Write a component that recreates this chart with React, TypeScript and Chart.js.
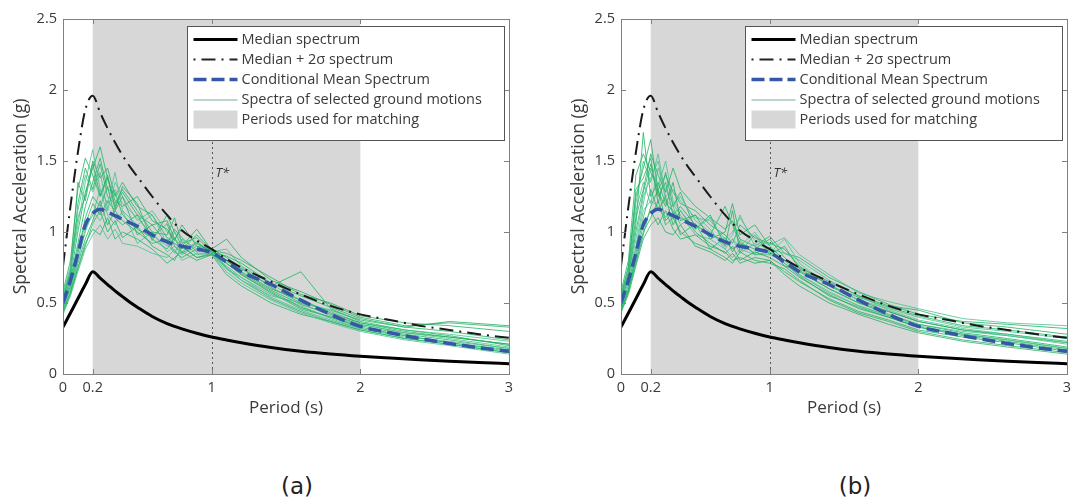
import { useEffect, useRef } from "react";
import { Chart, registerables } from "chart.js";
Chart.register(...registerables);

// ---- axis ranges & ticks ----
const xTickValues = [0, 0.2, 1, 2, 3];
const yTickValues = [0, 0.5, 1, 1.5, 2, 2.5];
const matchStart = 0.2;
const matchEnd = 2;
const tStar = 1;
const tStarLabelY = 1.41;

// ---- smooth spectra (shared by both panels) ----
const periods = [0, 0.05, 0.1, 0.15, 0.2, 0.25, 0.3, 0.35, 0.4, 0.45, 0.5, 0.6, 0.7, 0.8, 0.9, 1.0, 1.1, 1.2, 1.4, 1.6, 1.8, 2.0, 2.2, 2.4, 2.6, 2.8, 3.0];
const medianSa = [0.33, 0.43, 0.53, 0.63, 0.72, 0.675, 0.63, 0.585, 0.545, 0.505, 0.47, 0.405, 0.355, 0.318, 0.287, 0.26, 0.239, 0.22, 0.187, 0.161, 0.141, 0.125, 0.112, 0.1, 0.09, 0.081, 0.073];
const plus2SigmaSa = [0.76, 1.18, 1.56, 1.86, 1.96, 1.84, 1.73, 1.63, 1.54, 1.46, 1.39, 1.25, 1.12, 1.01, 0.94, 0.88, 0.81, 0.75, 0.65, 0.56, 0.48, 0.42, 0.38, 0.34, 0.31, 0.28, 0.255];
const cmsSa = [0.5, 0.66, 0.85, 1.05, 1.13, 1.16, 1.14, 1.115, 1.09, 1.065, 1.04, 0.98, 0.93, 0.9, 0.88, 0.855, 0.79, 0.72, 0.63, 0.52, 0.42, 0.335, 0.29, 0.25, 0.215, 0.185, 0.16];

// ---- selected ground motions ----
const gmPeriods = [0, 0.05, 0.1, 0.15, 0.2, 0.25, 0.3, 0.35, 0.4, 0.5, 0.6, 0.7, 0.75, 0.8, 0.9, 1.0, 1.1, 1.2, 1.4, 1.6, 1.8, 2.0, 2.3, 2.6, 3.0];

const gmA1 = [0.48, 0.62, 0.85, 1.10, 1.25, 1.18, 1.32, 1.10, 1.05, 1.12, 0.95, 0.88, 0.96, 0.85, 0.92, 0.86, 0.78, 0.70, 0.58, 0.47, 0.40, 0.33, 0.27, 0.22, 0.17];
const gmA2 = [0.55, 0.74, 1.05, 1.35, 1.58, 1.30, 1.20, 1.42, 1.15, 1.05, 1.12, 0.92, 0.85, 0.95, 0.88, 0.87, 0.74, 0.66, 0.55, 0.50, 0.41, 0.35, 0.29, 0.25, 0.19];
const gmA3 = [0.45, 0.58, 0.78, 0.95, 1.08, 1.22, 1.05, 1.15, 1.25, 0.98, 1.05, 1.08, 0.95, 0.90, 0.82, 0.84, 0.80, 0.72, 0.60, 0.52, 0.43, 0.36, 0.30, 0.26, 0.21];
const gmA4 = [0.52, 0.70, 1.20, 1.45, 1.30, 1.48, 1.25, 1.20, 1.30, 1.15, 1.00, 0.98, 1.10, 0.92, 0.96, 0.86, 0.83, 0.78, 0.64, 0.55, 0.47, 0.39, 0.33, 0.30, 0.24];
const gmA5 = [0.42, 0.55, 0.72, 0.88, 0.98, 1.05, 0.95, 1.02, 0.92, 0.90, 0.85, 0.82, 0.88, 0.80, 0.85, 0.85, 0.72, 0.64, 0.52, 0.43, 0.36, 0.30, 0.24, 0.20, 0.14];
const gmA6 = [0.58, 0.80, 1.30, 1.52, 1.40, 1.25, 1.38, 1.22, 1.18, 1.25, 1.08, 1.02, 0.94, 1.05, 0.90, 0.88, 0.95, 0.82, 0.66, 0.58, 0.49, 0.40, 0.34, 0.36, 0.33];
const gmA7 = [0.50, 0.66, 0.92, 1.18, 1.35, 1.52, 1.30, 1.28, 1.12, 1.02, 0.96, 1.06, 0.90, 0.86, 0.93, 0.86, 0.80, 0.74, 0.62, 0.72, 0.46, 0.37, 0.31, 0.27, 0.20];
const gmA8 = [0.47, 0.60, 0.80, 1.00, 1.15, 1.08, 1.18, 1.30, 1.20, 1.10, 0.98, 0.90, 1.00, 0.94, 0.84, 0.85, 0.76, 0.68, 0.56, 0.48, 0.39, 0.32, 0.26, 0.23, 0.18];
const gmA9 = [0.53, 0.72, 1.10, 1.25, 1.50, 1.38, 1.45, 1.25, 1.35, 1.18, 1.12, 0.96, 0.92, 0.88, 0.98, 0.87, 0.85, 0.80, 0.68, 0.56, 0.50, 0.41, 0.36, 0.34, 0.30];
const gmA10 = [0.44, 0.57, 0.75, 0.92, 1.02, 0.98, 1.10, 0.95, 1.00, 0.95, 0.88, 0.78, 0.82, 0.86, 0.80, 0.84, 0.70, 0.62, 0.50, 0.42, 0.37, 0.31, 0.25, 0.21, 0.15];
const gmA11 = [0.56, 0.76, 1.15, 1.40, 1.28, 1.42, 1.15, 1.35, 1.25, 1.08, 1.15, 1.00, 0.95, 1.02, 0.92, 0.86, 0.88, 0.76, 0.63, 0.52, 0.44, 0.36, 0.31, 0.28, 0.23];
const gmA12 = [0.49, 0.64, 0.88, 1.05, 1.20, 1.12, 1.22, 1.15, 1.08, 1.00, 0.92, 0.95, 0.86, 0.82, 0.88, 0.84, 0.78, 0.70, 0.57, 0.46, 0.40, 0.34, 0.28, 0.24, 0.18];
const gmA13 = [0.51, 0.68, 1.00, 1.28, 1.45, 1.60, 1.38, 1.18, 1.28, 1.12, 1.05, 0.92, 1.02, 0.96, 0.86, 0.88, 0.82, 0.75, 0.61, 0.50, 0.45, 0.38, 0.33, 0.37, 0.34];
const gmA14 = [0.46, 0.61, 0.82, 1.02, 1.12, 1.30, 1.12, 1.05, 1.15, 0.92, 1.00, 0.86, 0.90, 0.84, 0.90, 0.85, 0.74, 0.68, 0.54, 0.45, 0.38, 0.32, 0.27, 0.22, 0.16];
const gmA15 = [0.54, 0.73, 1.35, 1.22, 1.48, 1.26, 1.40, 1.16, 1.32, 1.20, 0.94, 1.12, 1.00, 0.90, 1.02, 0.87, 0.80, 0.71, 0.59, 0.49, 0.42, 0.35, 0.29, 0.26, 0.21];
const gmA16 = [0.43, 0.56, 0.74, 0.90, 1.06, 1.15, 1.00, 1.08, 0.96, 1.04, 0.90, 0.84, 0.80, 0.90, 0.82, 0.85, 0.75, 0.66, 0.53, 0.44, 0.37, 0.31, 0.25, 0.21, 0.15];

const gmB1 = [0.50, 0.68, 1.05, 1.70, 1.25, 1.35, 1.20, 1.15, 1.10, 1.05, 0.98, 1.18, 1.05, 0.92, 0.88, 0.95, 0.82, 0.72, 0.60, 0.50, 0.42, 0.35, 0.29, 0.25, 0.19];
const gmB2 = [0.47, 0.62, 0.90, 1.20, 1.45, 1.32, 1.50, 1.22, 1.15, 1.02, 1.10, 0.92, 0.98, 1.12, 0.90, 0.85, 0.95, 0.78, 0.62, 0.52, 0.46, 0.40, 0.33, 0.30, 0.25];
const gmB3 = [0.55, 0.75, 1.25, 1.45, 1.65, 1.28, 1.18, 1.35, 1.08, 1.12, 0.95, 1.00, 1.20, 0.98, 1.05, 0.90, 0.80, 0.75, 0.65, 0.55, 0.48, 0.45, 0.36, 0.33, 0.28];
const gmB4 = [0.44, 0.58, 0.80, 1.00, 1.10, 1.22, 1.05, 1.10, 1.00, 0.92, 0.88, 0.82, 0.78, 0.86, 0.80, 0.78, 0.74, 0.66, 0.52, 0.43, 0.37, 0.30, 0.24, 0.20, 0.15];
const gmB5 = [0.52, 0.70, 1.15, 1.35, 1.20, 1.45, 1.30, 1.20, 1.25, 1.08, 1.00, 0.90, 0.95, 0.85, 0.92, 0.88, 0.85, 0.80, 0.66, 0.55, 0.45, 0.38, 0.32, 0.28, 0.22];
const gmB6 = [0.46, 0.60, 0.85, 1.10, 1.30, 1.15, 1.25, 1.05, 1.15, 1.00, 0.92, 0.85, 0.90, 0.80, 0.86, 0.82, 0.76, 0.68, 0.56, 0.46, 0.40, 0.33, 0.27, 0.23, 0.17];
const gmB7 = [0.58, 0.80, 1.40, 1.55, 1.42, 1.30, 1.40, 1.28, 1.20, 1.15, 1.05, 0.98, 0.92, 1.05, 0.96, 0.92, 0.88, 0.76, 0.62, 0.54, 0.47, 0.41, 0.34, 0.31, 0.26];
const gmB8 = [0.49, 0.65, 0.95, 1.25, 1.38, 1.50, 1.22, 1.18, 1.05, 1.12, 1.02, 0.88, 0.95, 0.90, 1.00, 0.86, 0.78, 0.70, 0.58, 0.48, 0.41, 0.35, 0.30, 0.27, 0.21];
const gmB9 = [0.43, 0.56, 0.76, 0.95, 1.05, 1.10, 1.00, 0.98, 1.05, 0.90, 0.86, 0.80, 0.85, 0.78, 0.82, 0.80, 0.70, 0.62, 0.50, 0.42, 0.35, 0.29, 0.23, 0.19, 0.14];
const gmB10 = [0.54, 0.72, 1.10, 1.30, 1.55, 1.40, 1.28, 1.45, 1.30, 1.18, 1.10, 1.02, 1.08, 0.95, 0.90, 0.97, 0.85, 0.82, 0.68, 0.58, 0.49, 0.42, 0.37, 0.35, 0.32];
const gmB11 = [0.48, 0.63, 0.88, 1.15, 1.22, 1.18, 1.10, 1.20, 1.12, 0.98, 0.95, 0.88, 0.82, 0.88, 0.84, 0.84, 0.80, 0.70, 0.57, 0.48, 0.41, 0.34, 0.28, 0.24, 0.18];
const gmB12 = [0.51, 0.67, 1.00, 1.28, 1.48, 1.25, 1.35, 1.12, 1.18, 1.05, 0.98, 0.94, 0.88, 0.92, 0.85, 0.89, 0.76, 0.73, 0.60, 0.50, 0.44, 0.37, 0.31, 0.27, 0.22];
const gmB13 = [0.45, 0.59, 0.82, 1.05, 1.15, 1.05, 1.15, 1.02, 0.95, 0.98, 0.90, 0.86, 0.80, 0.82, 0.78, 0.80, 0.72, 0.65, 0.53, 0.44, 0.38, 0.31, 0.26, 0.22, 0.16];
const gmB14 = [0.56, 0.76, 1.20, 1.50, 1.35, 1.55, 1.25, 1.30, 1.22, 1.10, 1.08, 0.95, 1.00, 1.10, 0.94, 0.91, 0.96, 0.84, 0.70, 0.57, 0.51, 0.46, 0.39, 0.36, 0.34];
const gmB15 = [0.53, 0.71, 1.30, 1.38, 1.52, 1.20, 1.42, 1.18, 1.28, 1.02, 1.12, 0.90, 1.15, 0.86, 0.98, 0.84, 0.90, 0.74, 0.63, 0.52, 0.44, 0.37, 0.31, 0.28, 0.23];
const gmB16 = [0.45, 0.58, 0.78, 0.98, 1.18, 1.30, 1.08, 1.14, 0.98, 1.06, 0.88, 0.96, 0.86, 0.94, 0.84, 0.86, 0.78, 0.69, 0.55, 0.47, 0.40, 0.33, 0.28, 0.24, 0.18];

const groundMotionsA = [gmA1, gmA2, gmA3, gmA4, gmA5, gmA6, gmA7, gmA8, gmA9, gmA10, gmA11, gmA12, gmA13, gmA14, gmA15, gmA16];
const groundMotionsB = [gmB1, gmB2, gmB3, gmB4, gmB5, gmB6, gmB7, gmB8, gmB9, gmB10, gmB11, gmB12, gmB13, gmB14, gmB15, gmB16];

// ---- text ----
const legendLabels = [
  "Median spectrum",
  "Median + 2\u03c3 spectrum",
  "Conditional Mean Spectrum",
  "Spectra of selected ground motions",
  "Periods used for matching",
];
const xTitle = "Period (s)";
const yTitle = "Spectral Acceleration (g)";
const tStarLabel = "T*";
const captions = ["(a)", "(b)"];

// ---- styles ----
const FONT = "'Open Sans', 'Noto Sans', sans-serif";
const TEXT = "#3a3a3a";
const AXIS = "#808080";
const SHADE = "#d7d7d7";
const CMS_BLUE = "#3457a6";
const GREENS = ["rgba(40,185,105,0.85)", "rgba(70,195,145,0.8)", "rgba(30,170,90,0.75)"];
const CANVAS_W = 536;
const CANVAS_H = 430;

const toPoints = (xs: number[], ys: number[]) => xs.map((x, i) => ({ x, y: ys[i] }));

const overlayPlugin = {
  id: "overlay",
  beforeDatasetsDraw(chart: any) {
    const { ctx, chartArea: a, scales } = chart;
    const x = scales.x;
    const y = scales.y;
    ctx.save();
    const x0 = x.getPixelForValue(matchStart);
    const x1 = x.getPixelForValue(matchEnd);
    ctx.fillStyle = SHADE;
    ctx.fillRect(x0, a.top, x1 - x0, a.bottom - a.top);
    // dotted T* line
    const xt = Math.round(x.getPixelForValue(tStar)) + 0.5;
    ctx.strokeStyle = "#555";
    ctx.lineWidth = 1;
    ctx.setLineDash([2, 3]);
    ctx.beginPath();
    ctx.moveTo(xt, a.bottom);
    ctx.lineTo(xt, a.top + 120);
    ctx.stroke();
    ctx.setLineDash([]);
    // T* label
    ctx.fillStyle = "#333";
    ctx.font = `italic 13px ${FONT}`;
    ctx.textBaseline = "middle";
    ctx.textAlign = "left";
    ctx.fillText(tStarLabel, xt + 3, y.getPixelForValue(tStarLabelY));
    ctx.restore();
  },
  afterDatasetsDraw(chart: any) {
    const { ctx, chartArea: a, scales } = chart;
    const x = scales.x;
    const y = scales.y;
    ctx.save();
    // axes box
    ctx.strokeStyle = AXIS;
    ctx.lineWidth = 1;
    ctx.strokeRect(Math.round(a.left) + 0.5, Math.round(a.top) + 0.5, Math.round(a.right - a.left), Math.round(a.bottom - a.top));
    const tl = 5;
    ctx.beginPath();
    xTickValues.forEach((v) => {
      const px = Math.round(x.getPixelForValue(v)) + 0.5;
      ctx.moveTo(px, a.bottom);
      ctx.lineTo(px, a.bottom - tl);
      ctx.moveTo(px, a.top);
      ctx.lineTo(px, a.top + tl);
    });
    yTickValues.forEach((v) => {
      const py = Math.round(y.getPixelForValue(v)) + 0.5;
      ctx.moveTo(a.left, py);
      ctx.lineTo(a.left + tl, py);
      ctx.moveTo(a.right, py);
      ctx.lineTo(a.right - tl, py);
    });
    ctx.stroke();

    // legend
    const lx = Math.round(a.left + 124) + 0.5;
    const ly = Math.round(a.top + 7) + 0.5;
    const lw = Math.round(a.right - 5 - lx);
    const lh = 114;
    ctx.fillStyle = "#fff";
    ctx.fillRect(lx, ly, lw, lh);
    ctx.strokeStyle = "#555";
    ctx.lineWidth = 1;
    ctx.strokeRect(lx, ly, lw, lh);
    const sx0 = lx + 6;
    const sx1 = lx + 50;
    const rowY = (i: number) => ly + 13 + i * 20;
    // row 0: median
    ctx.strokeStyle = "#000";
    ctx.lineWidth = 3;
    ctx.beginPath();
    ctx.moveTo(sx0, rowY(0));
    ctx.lineTo(sx1, rowY(0));
    ctx.stroke();
    // row 1: dash-dot
    ctx.lineWidth = 2;
    ctx.strokeStyle = "#222";
    ctx.setLineDash([2, 6, 14, 6]);
    ctx.beginPath();
    ctx.moveTo(sx0, rowY(1));
    ctx.lineTo(sx1, rowY(1));
    ctx.stroke();
    // row 2: CMS
    ctx.lineWidth = 3.5;
    ctx.strokeStyle = CMS_BLUE;
    ctx.setLineDash([13, 5]);
    ctx.beginPath();
    ctx.moveTo(sx0, rowY(2));
    ctx.lineTo(sx1, rowY(2));
    ctx.stroke();
    ctx.setLineDash([]);
    // row 3: ground motions
    ctx.lineWidth = 1;
    ctx.strokeStyle = "rgba(90,150,120,0.8)";
    ctx.beginPath();
    ctx.moveTo(sx0, rowY(3) + 0.5);
    ctx.lineTo(sx1, rowY(3) + 0.5);
    ctx.stroke();
    // row 4: shading patch
    ctx.fillStyle = SHADE;
    ctx.fillRect(sx0, rowY(4) - 9, sx1 - sx0, 18);
    // labels
    ctx.fillStyle = TEXT;
    ctx.font = `14.5px ${FONT}`;
    ctx.textAlign = "left";
    ctx.textBaseline = "middle";
    legendLabels.forEach((t, i) => ctx.fillText(t, sx1 + 4, rowY(i)));
    ctx.restore();
  },
};

function SpectrumChart({ motions }: { motions: number[][] }) {
  const ref = useRef<HTMLCanvasElement | null>(null);
  useEffect(() => {
    if (!ref.current) return;
    const smooth = { cubicInterpolationMode: "monotone" };
    const datasets: any[] = [
      { data: toPoints(periods, medianSa), borderColor: "#000", borderWidth: 3, ...smooth },
      { data: toPoints(periods, plus2SigmaSa), borderColor: "#1a1a1a", borderWidth: 2, borderDash: [14, 6, 2, 6], ...smooth },
      { data: toPoints(periods, cmsSa), borderColor: CMS_BLUE, borderWidth: 3.5, borderDash: [13, 6], ...smooth },
      ...motions.map((m, i) => ({
        data: toPoints(gmPeriods, m),
        borderColor: GREENS[i % GREENS.length],
        borderWidth: 1,
      })),
    ];
    const chart = new Chart(ref.current, {
      type: "scatter",
      data: { datasets },
      options: {
        animation: false,
        responsive: false,
        devicePixelRatio: 1,
        events: [],
        showLine: true,
        elements: { point: { radius: 0 }, line: { tension: 0, borderJoinStyle: "round" } },
        layout: { padding: { top: 19, right: 27, left: 0, bottom: 0 } },
        plugins: { legend: { display: false }, tooltip: { enabled: false } },
        scales: {
          x: {
            type: "linear",
            min: 0,
            max: 3,
            afterBuildTicks: (s: any) => {
              s.ticks = xTickValues.map((v) => ({ value: v }));
            },
            afterFit: (s: any) => {
              s.height = CANVAS_H - 374;
            },
            grid: { display: false, drawTicks: false },
            border: { display: false },
            ticks: {
              autoSkip: false,
              maxRotation: 0,
              padding: 5,
              color: TEXT,
              font: { family: FONT, size: 14.5 },
              callback: (v: any) => String(v),
            },
            title: {
              display: true,
              text: xTitle,
              color: TEXT,
              font: { family: FONT, size: 17 },
              padding: { top: 0, bottom: 12 },
            },
          },
          y: {
            type: "linear",
            min: 0,
            max: 2.5,
            afterBuildTicks: (s: any) => {
              s.ticks = yTickValues.map((v) => ({ value: v }));
            },
            afterFit: (s: any) => {
              s.width = 63;
            },
            grid: { display: false, drawTicks: false },
            border: { display: false },
            ticks: {
              padding: 6,
              color: TEXT,
              font: { family: FONT, size: 14.5 },
              callback: (v: any) => String(v),
            },
            title: {
              display: true,
              text: yTitle,
              color: TEXT,
              font: { family: FONT, size: 17.5 },
              padding: { top: 11, bottom: 0 },
            },
          },
        },
      },
      plugins: [overlayPlugin],
    } as any);
    return () => chart.destroy();
  }, [motions]);
  return <canvas ref={ref} width={CANVAS_W} height={CANVAS_H} style={{ display: "block" }} />;
}

export default function App() {
  const panels = [groundMotionsA, groundMotionsB];
  const lefts = [0, 558];
  const captionCenters = [297, 855];
  return (
    <div style={{ position: "absolute", left: 0, top: 0, width: 1073, height: 502, background: "#fff", overflow: "hidden" }}>
      {panels.map((m, i) => (
        <div key={i} style={{ position: "absolute", left: lefts[i], top: 0, width: CANVAS_W, height: CANVAS_H }}>
          <SpectrumChart motions={m} />
        </div>
      ))}
      {captions.map((c, i) => (
        <div
          key={c}
          style={{
            position: "absolute",
            left: captionCenters[i] - 40,
            width: 80,
            top: 473,
            textAlign: "center",
            fontFamily: "'DejaVu Sans', sans-serif",
            fontSize: 23,
            lineHeight: "26px",
            color: "#222",
          }}
        >
          {c}
        </div>
      ))}
    </div>
  );
}
